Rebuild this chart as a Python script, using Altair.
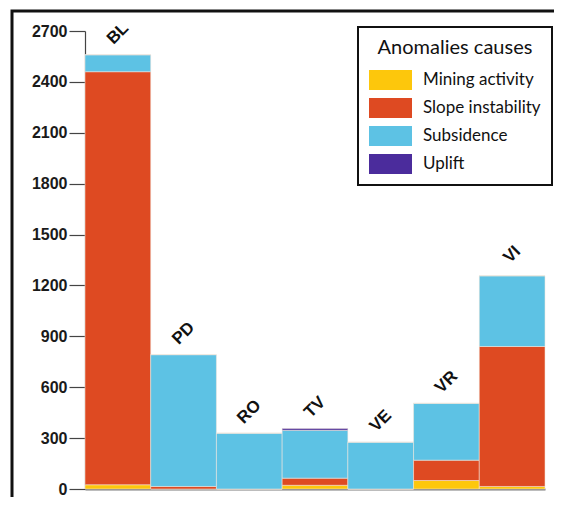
import altair as alt
import pandas as pd

sites = ["BL", "PD", "RO", "TV", "VE", "VR", "VI"]
causes = ["Mining activity", "Slope instability", "Subsidence", "Uplift"]
mining = [25, 0, 0, 22, 0, 50, 15]
slope = [2435, 15, 0, 42, 0, 120, 825]
subsidence = [100, 777, 329, 282, 276, 335, 417]
uplift = [0, 0, 0, 10, 0, 0, 0]
colors = ["#FDC70C", "#DE4A22", "#5DC2E4", "#4B2C9C"]
y_ticks = list(range(0, 2701, 150))

rows = []
for i, s in enumerate(sites):
    for j, (c, vals) in enumerate(zip(causes, [mining, slope, subsidence, uplift])):
        rows.append({"site": s, "cause": c, "value": vals[i], "ord": j})
df = pd.DataFrame(rows)
totals = pd.DataFrame({"site": sites,
                       "total": [a + b + c + d for a, b, c, d in zip(mining, slope, subsidence, uplift)]})

xenc = alt.X("site:N", sort=sites, title=None,
             scale=alt.Scale(paddingInner=0, paddingOuter=0),
             axis=alt.Axis(labels=False, ticks=False, domainColor="#7a7a7a", domainWidth=2))
yscale = alt.Scale(domain=[0, 2700], nice=False, zero=True)

bars = alt.Chart(df).mark_bar(stroke="#f4e6dc", strokeWidth=0.6, strokeOpacity=0.9).encode(
    x=xenc,
    y=alt.Y("value:Q", stack="zero", scale=yscale, title=None,
            axis=alt.Axis(values=y_ticks, format="d",
                          labelExpr="datum.value % 300 === 0 ? datum.label : ''",
                          labelFont="Liberation Sans", labelFontWeight="bold",
                          labelFontSize=16, labelColor="#1a1a1a", labelPadding=2,
                          tickSize={"condition": {"test": "datum.value % 300 === 0", "value": 16}, "value": 8},
                          tickColor="#444444", tickWidth=1.2,
                          domainColor="#444444", domainWidth=1.2, grid=False)),
    color=alt.Color("cause:N", sort=causes,
                    scale=alt.Scale(domain=causes, range=colors),
                    legend=alt.Legend(title="Anomalies causes", orient="none",
                                      legendX=273, legendY=-4,
                                      titleFont="Lato", titleFontSize=20, titleFontWeight="normal",
                                      titleColor="#111111", titleAnchor="middle", titlePadding=12,
                                      labelFont="Lato", labelFontSize=17, labelColor="#111111",
                                      symbolType="M-1,-1H3.3V1H-1Z", symbolSize=400,
                                      symbolStrokeWidth=0, symbolOpacity=1,
                                      labelOffset=34, rowPadding=8,
                                      padding=11, strokeColor="#111111",
                                      fillColor="white")),
    order=alt.Order("ord:Q", sort="ascending"),
)

labels = alt.Chart(totals).mark_text(angle=315, align="center", baseline="middle",
                                     font="Liberation Sans", fontWeight="bold", fontSize=17,
                                     color="#111111", dx=15, dy=-15).encode(
    x=alt.X("site:N", sort=sites),
    y=alt.Y("total:Q", scale=yscale),
    text="site:N",
)

frame = alt.Chart(alt.Data(values=[{}])).mark_rect(
    filled=False, stroke="#111111", strokeWidth=3, clip=False).encode(
    x=alt.value(-73), x2=alt.value(471), y=alt.value(-20), y2=alt.value(480))

chart = alt.layer(frame, bars, labels).properties(
    width=460, height=458,
    padding={"left": 77, "top": 23, "right": 9, "bottom": 8},
    autosize=alt.AutoSizeParams(type="none"),
    view=alt.ViewBackground(strokeOpacity=0, strokeWidth=0),
).configure_view(strokeOpacity=0, strokeWidth=0).configure(background="white").configure_legend(strokeWidth=2)

chart.save("out.html", embed_options={"renderer": "svg", "actions": False})
